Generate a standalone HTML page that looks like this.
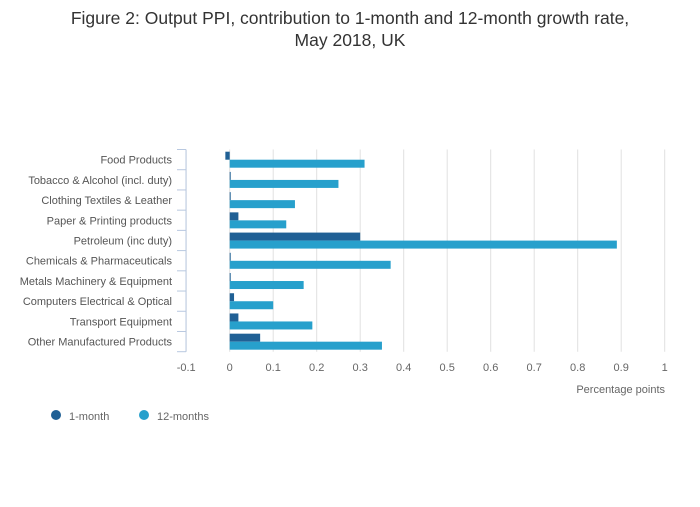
<!DOCTYPE html>
<html><head><meta charset="utf-8"><style>
body{margin:0;background:#fff;font-family:"Liberation Sans",sans-serif}
</style></head><body>
<svg width="700" height="502" xmlns="http://www.w3.org/2000/svg" font-family="Liberation Sans, sans-serif">
<text x="350" y="24" text-anchor="middle" font-size="17.5" fill="#333">Figure 2: Output PPI, contribution to 1-month and 12-month growth rate,</text>
<text x="350" y="46" text-anchor="middle" font-size="17.5" fill="#333">May 2018, UK</text>
<g id="grid"></g><g id="bars"></g><g id="axis"></g>
<text x="665" y="393" text-anchor="end" font-size="11" fill="#666">Percentage points</text>
<circle cx="56" cy="415" r="5" fill="#206095"/>
<text x="69" y="420" font-size="11" fill="#666">1-month</text>
<circle cx="144" cy="415" r="5" fill="#27a0cc"/>
<text x="157" y="420" font-size="11" fill="#666">12-months</text>
</svg>
<script>
const categories=["Food Products","Tobacco & Alcohol (incl. duty)","Clothing Textiles & Leather","Paper & Printing products","Petroleum (inc duty)","Chemicals & Pharmaceuticals","Metals Machinery & Equipment","Computers Electrical & Optical","Transport Equipment","Other Manufactured Products"];
const month1=[-0.01,0.002,0.002,0.02,0.3,0.002,0.002,0.01,0.02,0.07];
const month12=[0.31,0.25,0.15,0.13,0.89,0.37,0.17,0.1,0.19,0.35];
const ticks=[-0.1,0,0.1,0.2,0.3,0.4,0.5,0.6,0.7,0.8,0.9,1];
const NS="http://www.w3.org/2000/svg";
const xs=v=>229.7+v*435;
const plotTop=149.5,band=20.22;
const ys=i=>plotTop+i*band;
function mk(t,a,p){const e=document.createElementNS(NS,t);for(const k in a)e.setAttribute(k,a[k]);document.getElementById(p).appendChild(e);return e;}
ticks.forEach(t=>{
 const g=mk('line',{x1:xs(t),x2:xs(t),y1:plotTop,y2:ys(10),stroke:'#e0e0e0','stroke-width':1},'grid');
 
 
 const l=mk('text',{x:xs(t),y:371,'text-anchor':'middle','font-size':11,fill:'#666'},'axis');
 l.textContent=t;
 
 
});
const ax=mk('line',{x1:186,x2:186,y1:plotTop,y2:ys(10),stroke:'#b8c8e0'},'axis');


for(let i=0;i<=10;i++){
 const tk=mk('line',{x1:177,x2:186,y1:ys(i),y2:ys(i),stroke:'#b8c8e0'},'axis');
 
 
}
categories.forEach((c,i)=>{
 const l=mk('text',{x:172,y:ys(i)+band/2+4,'text-anchor':'end','font-size':11,fill:'#555'},'axis');
 l.textContent=c;
 
 
 const v1=month1[i],v2=month12[i];
 const b1=mk('rect',{x:Math.min(xs(0),xs(v1)),y:ys(i)+2.2,width:Math.max(1,Math.abs(xs(v1)-xs(0))),height:8,fill:'#206095'},'bars');
 
 
 const b2=mk('rect',{x:Math.min(xs(0),xs(v2)),y:ys(i)+10.2,width:Math.max(1,Math.abs(xs(v2)-xs(0))),height:8,fill:'#27a0cc'},'bars');
 
 
});
</script>
</body></html>
